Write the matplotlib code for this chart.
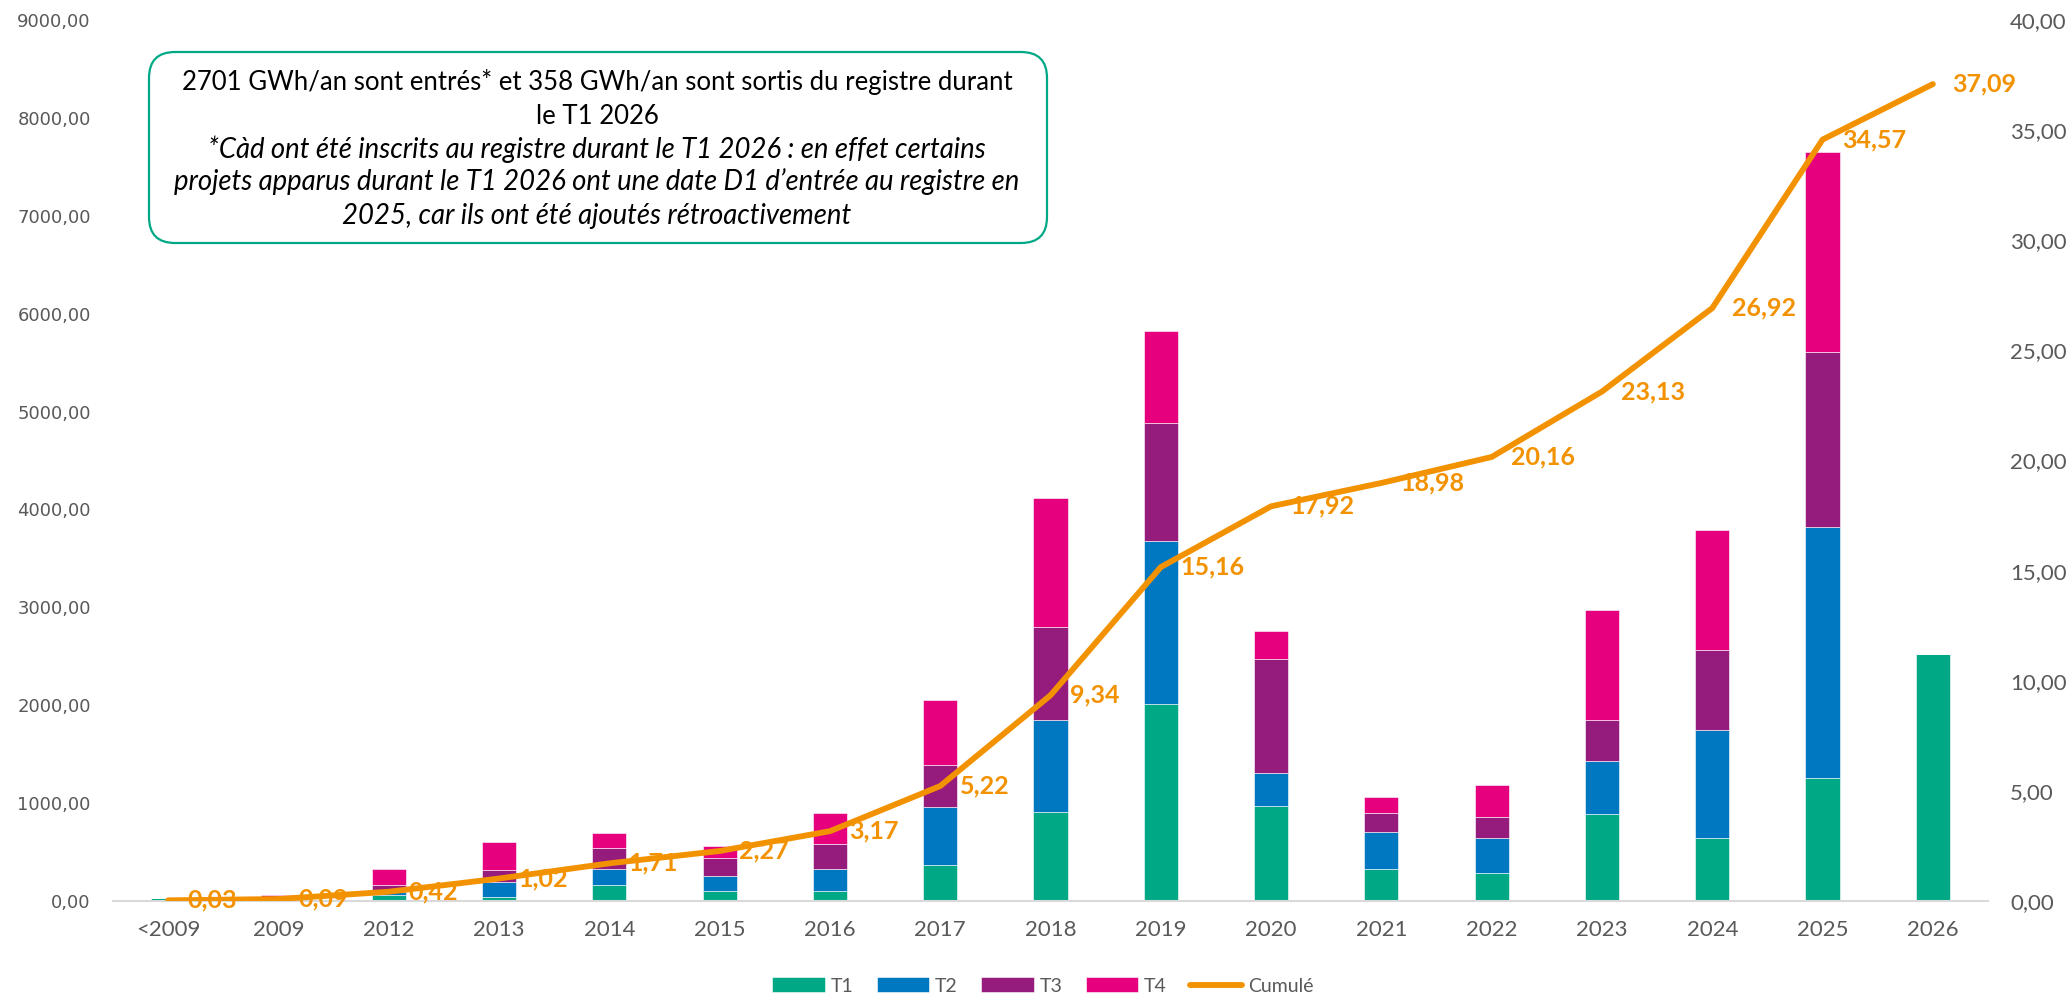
import numpy as np
import matplotlib
matplotlib.use("Agg")
import matplotlib.pyplot as plt
from matplotlib.patches import FancyBboxPatch
from matplotlib.transforms import IdentityTransform
from matplotlib.ticker import FuncFormatter

# data (GWh/an per quarter of entry, cumulated in TWh/an)
years = ["<2009", "2009", "2012", "2013", "2014", "2015", "2016", "2017", "2018",
         "2019", "2020", "2021", "2022", "2023", "2024", "2025", "2026"]
t1 = [30, 10, 60, 45, 160, 100, 105, 365, 910, 2010, 970, 330, 290, 885, 645, 1260, 2520]
t2 = [0, 10, 35, 150, 165, 155, 225, 595, 935, 1670, 340, 375, 350, 550, 1100, 2560, 0]
t3 = [0, 10, 65, 125, 215, 185, 250, 430, 955, 1200, 1160, 190, 220, 415, 820, 1785, 0]
t4 = [0, 30, 170, 280, 150, 120, 320, 660, 1320, 940, 290, 165, 320, 1120, 1225, 2045, 0]
cumul = [0.03, 0.09, 0.42, 1.02, 1.71, 2.27, 3.17, 5.22, 9.34, 15.16, 17.92, 18.98,
         20.16, 23.13, 26.92, 34.57, 37.09]

c_t1 = "#00A886"
c_t2 = "#0078C1"
c_t3 = "#951B7C"
c_t4 = "#E6007E"
c_line = "#F39200"
grey = "#595959"

box_lines = [
    ("2701 GWh/an sont entrés* et 358 GWh/an sont sortis du registre durant", "normal"),
    ("le T1 2026", "normal"),
    ("*Càd ont été inscrits au registre durant le T1 2026 : en effet certains", "italic"),
    ("projets apparus durant le T1 2026 ont une date D1 d\u2019entrée au registre en", "italic"),
    ("2025, car ils ont été ajoutés rétroactivement", "italic"),
]


def fr(v, pos=None):
    return f"{v:.2f}".replace(".", ",")


W, H = 2070, 996
fig = plt.figure(figsize=(W / 100, H / 100), dpi=100)
ax = fig.add_axes([113 / W, 1 - 901 / H, (1988 - 113) / W, (901 - 20) / H])
ax2 = ax.twinx()

x = np.arange(len(years))
t1 = np.array(t1)
t2 = np.array(t2)
t3 = np.array(t3)
t4 = np.array(t4)
bw = 0.31
kw = dict(width=bw, edgecolor="white", linewidth=0.4, zorder=2)
ax.bar(x, t1, color=c_t1, label="T1", **kw)
ax.bar(x, t2, bottom=t1, color=c_t2, label="T2", **kw)
ax.bar(x, t3, bottom=t1 + t2, color=c_t3, label="T3", **kw)
ax.bar(x, t4, bottom=t1 + t2 + t3, color=c_t4, label="T4", **kw)

ax.set_xlim(-0.5, len(years) - 0.5)
ax.set_ylim(0, 9000)
ax.set_yticks(np.arange(0, 9001, 1000))
ax.yaxis.set_major_formatter(FuncFormatter(fr))
ax.set_xticks(x)
ax.set_xticklabels(years)
for s in ["top", "right", "left"]:
    ax.spines[s].set_visible(False)
ax.spines["bottom"].set_color("#D9D9D9")
ax.spines["bottom"].set_linewidth(1.5)
ax.tick_params(axis="y", length=0, pad=16, labelsize=13, colors=grey)
ax.tick_params(axis="x", length=0, pad=14, colors=grey)
for lab in ax.get_xticklabels():
    lab.set_fontfamily("Lato")
    lab.set_fontsize(16)
for lab in ax.get_yticklabels():
    lab.set_fontfamily("DejaVu Sans")

ln, = ax2.plot(x, cumul, color=c_line, linewidth=4.2, solid_capstyle="round",
               label="Cumulé", zorder=3)
ax2.set_ylim(0, 40)
ax2.set_yticks(np.arange(0, 41, 5))
ax2.yaxis.set_major_formatter(FuncFormatter(fr))
for s in ["top", "right", "left", "bottom"]:
    ax2.spines[s].set_visible(False)
ax2.tick_params(axis="y", length=0, pad=16, colors=grey)
for lab in ax2.get_yticklabels():
    lab.set_fontfamily("Lato")
    lab.set_fontsize(16)

for xi, v in zip(x, cumul):
    ax2.annotate(fr(v), (xi, v), xytext=(14, 0), textcoords="offset points",
                 ha="left", va="center", color=c_line, fontsize=18,
                 fontweight="bold", family="Lato", zorder=4)

# annotation box
box = FancyBboxPatch((149, H - 243), 898, 191,
                     boxstyle="round,pad=0,rounding_size=26",
                     transform=IdentityTransform(), facecolor="white",
                     edgecolor="#00A886", linewidth=1.6, zorder=5)
fig.patches.append(box)
line_y = [82, 116, 149, 182, 216]
for (txt, style), yy in zip(box_lines, line_y):
    size = 18.5 if style == "normal" else 19.8
    fig.text(597 / W, 1 - yy / H, txt, ha="center", va="center", fontsize=size,
             family="Lato", style=style, color="black", zorder=6)

handles, labels = ax.get_legend_handles_labels()
leg = fig.legend(handles + [ln], labels + ["Cumulé"], loc="center",
                 bbox_to_anchor=(1043 / W, 1 - 986 / H), ncol=5, frameon=False,
                 prop={"family": "Lato", "size": 14}, handlelength=2.7,
                 handleheight=0.8, handletextpad=0.3, columnspacing=1.2)
for t in leg.get_texts():
    t.set_color(grey)

fig.savefig("out.png", dpi=100)
